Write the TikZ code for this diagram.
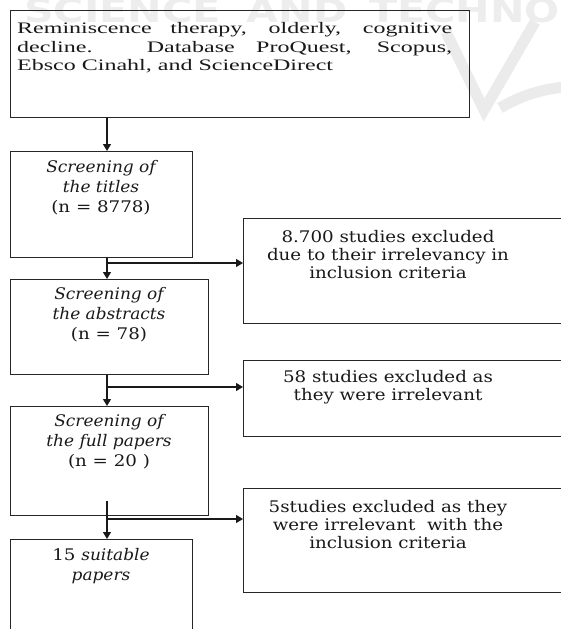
\documentclass[tikz,border=0pt]{standalone}
\usepackage{fontspec}
\setmainfont{Liberation Serif}
\newfontfamily\topfont[FakeStretch=1.5]{Liberation Serif}
\newfontfamily\rmwide[FakeStretch=1.14]{DejaVu Serif}
\newfontfamily\itwide[FakeStretch=1.06]{DejaVu Serif}
\newfontfamily\wmfont[FakeStretch=1.25]{DejaVu Sans}
\newcommand\sit[1]{{\itwide\itshape #1}}
\usetikzlibrary{arrows.meta,calc}
\begin{document}
\begin{tikzpicture}[x=1pt,y=-1pt,
  boxshape/.style={draw=black!85, line width=1.3pt, rectangle, inner sep=0pt, anchor=north west},
  arr/.style={draw=black!90, line width=1.3pt, -{Triangle[width=8pt,length=7pt]}},
  lt/.style={font=\rmwide\fontsize{16}{19.7}\selectfont, align=center, inner sep=0pt, anchor=base, text=black!90},
  rt/.style={font=\rmwide\fontsize{16}{18}\selectfont, align=center, inner sep=0pt, anchor=base, text=black!90},
  wm/.style={black!8, line width=11pt}
  ]
\useasboundingbox (0,0) rectangle (561,629);
% watermark
\node[font=\wmfont\bfseries\fontsize{33}{33}\selectfont, text=black!7, inner sep=0pt, anchor=base west] (wmtext) at (24,22) {SCIENCE\hspace{26pt}AND\hspace{22pt}TECHNOLOGY};
\draw[wm] (446,32) -- (484,110) -- (535,22);
\draw[wm] (500,108) .. controls (520,96) and (542,89) .. (565,87);
% boxes
\node[boxshape, minimum width=459pt, minimum height=107pt] (b1) at (10,10) {};
\node[boxshape, minimum width=182pt, minimum height=106pt] (b2) at (10,151) {};
\node[boxshape, minimum width=198pt, minimum height=95pt] (b3) at (10,279) {};
\node[boxshape, minimum width=198pt, minimum height=109pt] (b4) at (10,406) {};
\node[boxshape, minimum width=182pt, minimum height=110pt] (b5) at (10,539) {};
\node[boxshape, minimum width=330pt, minimum height=105pt] (r1) at (243,218) {};
\node[boxshape, minimum width=330pt, minimum height=76pt] (r2) at (243,360) {};
\node[boxshape, minimum width=330pt, minimum height=104pt] (r3) at (243,488) {};
% texts
\node[font=\topfont\fontsize{16}{18.7}\selectfont, text width=435pt, align=justify, inner sep=0pt, anchor=base west, text=black!90] (t1) at (17,33.3)
  {Reminiscence therapy, olderly, cognitive\linebreak decline. Database ProQuest, Scopus,\linebreak Ebsco Cinahl, and ScienceDirect};
\node[lt] (t2) at (101,212) {\sit{Screening of}\\\sit{the titles}\\(n = 8778)};
\node[lt] (t3) at (109,339) {\sit{Screening of}\\\sit{the abstracts}\\(n = 78)};
\node[lt] (t4) at (109,466) {\sit{Screening of}\\\sit{the full papers}\\(n = 20 )};
\node[lt] (t5) at (101,580) {15 \sit{suitable}\\\sit{papers}};
\node[rt] (tr1) at (388,278) {8.700 studies excluded\\due to their irrelevancy in\\inclusion criteria};
\node[rt] (tr2) at (388,400) {58 studies excluded as\\they were irrelevant};
\node[rt] (tr3) at (388,548) {5studies excluded as they\\were irrelevant\ \ with the\\inclusion criteria};
% connectors
\coordinate (j1) at (107,263);
\coordinate (j2) at (107,387);
\coordinate (j3) at (107,519);
\coordinate (s4) at (107,501);
\draw[arr] (b1.south -| j1) -- (b2.north -| j1);
\draw[arr] (b2.south -| j1) -- (b3.north -| j1);
\draw[arr] (j1) -- (j1 -| r1.west);
\draw[arr] (b3.south -| j2) -- (b4.north -| j2);
\draw[arr] (j2) -- (j2 -| r2.west);
\draw[arr] (s4) -- (b5.north -| s4);
\draw[arr] (j3) -- (j3 -| r3.west);
\end{tikzpicture}
\end{document}
